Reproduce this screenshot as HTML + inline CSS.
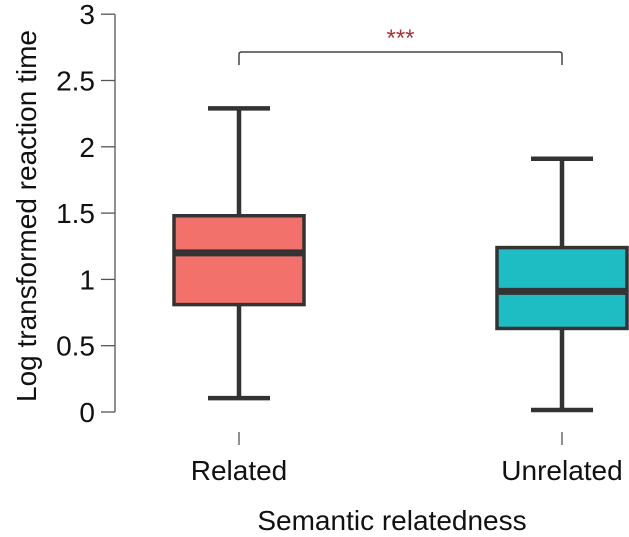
<!DOCTYPE html>
<html><head><meta charset="utf-8"><style>
body{margin:0;background:#fff;}
svg{display:block;font-family:"Liberation Sans",Arial,sans-serif;}
</style></head><body>
<svg id="chart" width="629" height="537" viewBox="0 0 629 537" xmlns="http://www.w3.org/2000/svg"></svg>
<script>
const categories = ["Related", "Unrelated"];
const colors = ["#f2716b", "#1ebdc4"];
const mins = [0.105, 0.015];
const q1s = [0.81, 0.63];
const medians = [1.2, 0.91];
const q3s = [1.48, 1.24];
const maxs = [2.29, 1.91];
const yTicks = [0, 0.5, 1, 1.5, 2, 2.5, 3];
const yTickLabels = ["0", "0.5", "1", "1.5", "2", "2.5", "3"];
const sigLabel = "***";

const NS = "http://www.w3.org/2000/svg";
const svg = document.getElementById("chart");
const y = v => 412 - v * 132.6;
const x = i => 239 + i * 323;
function mk(tag, attrs, parent) {
  const e = document.createElementNS(NS, tag);
  for (const k in attrs) e.setAttribute(k, attrs[k]);
  (parent || svg).appendChild(e);
  return e;
}
const yAxis = mk("g", {});


mk("line", {x1: 115, x2: 115, y1: y(3), y2: y(0), stroke: "#555", "stroke-width": 1.3}, yAxis);
yTicks.forEach((t, i) => {
  mk("line", {x1: 101, x2: 115, y1: y(t), y2: y(t), stroke: "#555", "stroke-width": 1.3}, yAxis);
  const tx = mk("text", {x: 95, y: y(t) + 10, "text-anchor": "end", "font-size": 28, fill: "#111"}, yAxis);
  tx.textContent = yTickLabels[i];
  
  
});
const yt = mk("text", {x: 0, y: 0, transform: "translate(36,216) rotate(-90)", "text-anchor": "middle", "font-size": 28, fill: "#111"});
yt.textContent = "Log transformed reaction time";


categories.forEach((c, i) => {
  const cx = x(i);
  const g = mk("g", {});
  
  
  const st = {stroke: "#333", "stroke-width": 4.5};
  mk("line", Object.assign({x1: cx, x2: cx, y1: y(maxs[i]), y2: y(q3s[i])}, st), g);
  mk("line", Object.assign({x1: cx, x2: cx, y1: y(q1s[i]), y2: y(mins[i])}, st), g);
  mk("line", Object.assign({x1: cx - 31, x2: cx + 31, y1: y(maxs[i]), y2: y(maxs[i])}, st), g);
  mk("line", Object.assign({x1: cx - 31, x2: cx + 31, y1: y(mins[i]), y2: y(mins[i])}, st), g);
  mk("rect", {x: cx - 65, y: y(q3s[i]), width: 130, height: y(q1s[i]) - y(q3s[i]), fill: colors[i], stroke: "#333", "stroke-width": 3.5}, g);
  mk("line", {x1: cx - 65, x2: cx + 65, y1: y(medians[i]), y2: y(medians[i]), stroke: "#333", "stroke-width": 7}, g);
  mk("line", {x1: cx, x2: cx, y1: 432, y2: 445, stroke: "#555", "stroke-width": 1.3}, g);
  const lt = mk("text", {x: cx, y: 480, "text-anchor": "middle", "font-size": 28, fill: "#111"});
  lt.textContent = c;
  
  
});
const br = mk("path", {d: `M${x(0)},65 L${x(0)},54 Q${x(0)},52 ${x(0)+3},52 L${x(1)-3},52 Q${x(1)},52 ${x(1)},54 L${x(1)},65`, fill: "none", stroke: "#444", "stroke-width": 1.5});


const sg = mk("text", {x: (x(0) + x(1)) / 2, y: 46, "text-anchor": "middle", "font-size": 24, fill: "#a33535"});
sg.textContent = sigLabel;


const xt = mk("text", {x: 392, y: 530, "text-anchor": "middle", "font-size": 28, fill: "#111"});
xt.textContent = "Semantic relatedness";


</script>
</body></html>
